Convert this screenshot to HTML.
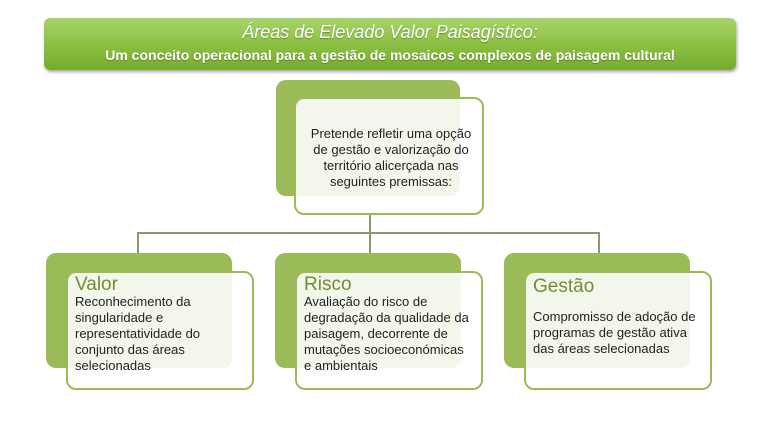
<!DOCTYPE html>
<html><head><meta charset="utf-8"><style>
body{margin:0;width:768px;height:442px;background:#fff;position:relative;overflow:hidden;font-family:"Liberation Sans",sans-serif}
.hdr{position:absolute;left:44px;top:18px;width:692px;height:52px;border-radius:6px;background:linear-gradient(#a8d46a,#8cc043 50%,#77ab2e);box-shadow:1px 2px 3px rgba(0,0,0,.35);color:#fff;text-align:center;text-shadow:0 1px 1px rgba(0,0,0,.3)}
.hdr .t{font-style:italic;font-size:18px;margin-top:4px}
.hdr .s{font-weight:bold;font-size:14px;margin-top:4px}
.g{position:absolute;background:#9bbb59;border-radius:10px}
.w{position:absolute;background:rgba(255,255,255,.88);border:2px solid #9bbb59;border-radius:10px;box-sizing:border-box;color:#222;font-size:13px;line-height:16px}
.w h3{margin:0;font-weight:normal;color:#6f8f33;font-size:19px;line-height:19px}
.l{position:absolute;background:#8a9a6a}
</style></head><body>
<div class="hdr"><div class="t">Áreas de Elevado Valor Paisagístico:</div><div class="s">Um conceito operacional para a gestão de mosaicos complexos de paisagem cultural</div></div>
<div class="g" style="left:276px;top:80px;width:184px;height:116px"></div>
<div class="w" style="left:294px;top:97px;width:190px;height:118px;padding:27px 6px 0 10px;text-align:center">Pretende refletir uma opção de gestão e valorização do território alicerçada nas seguintes premissas:</div>
<div class="l" style="left:369px;top:215px;width:2px;height:19px"></div>
<div class="l" style="left:137px;top:232px;width:463px;height:2px"></div>
<div class="l" style="left:137px;top:232px;width:2px;height:21px"></div>
<div class="l" style="left:369px;top:232px;width:2px;height:21px"></div>
<div class="l" style="left:598px;top:232px;width:2px;height:21px"></div>
<div class="g" style="left:46px;top:253px;width:186px;height:115px"></div>
<div class="w" style="left:66px;top:271px;width:188px;height:119px;padding:2px 12px 0 7px"><h3>Valor</h3>Reconhecimento da singularidade e representatividade do conjunto das áreas selecionadas</div>
<div class="g" style="left:275px;top:253px;width:186px;height:115px"></div>
<div class="w" style="left:295px;top:271px;width:188px;height:119px;padding:2px 8px 0 7px"><h3>Risco</h3>Avaliação do risco de degradação da qualidade da paisagem, decorrente de mutações socioeconómicas e ambientais</div>
<div class="g" style="left:504px;top:253px;width:186px;height:115px"></div>
<div class="w" style="left:524px;top:271px;width:188px;height:119px;padding:4px 6px 0 7px"><h3>Gestão</h3><div style="margin-top:13px">Compromisso de adoção de programas de gestão ativa das áreas selecionadas</div></div>
</body></html>
